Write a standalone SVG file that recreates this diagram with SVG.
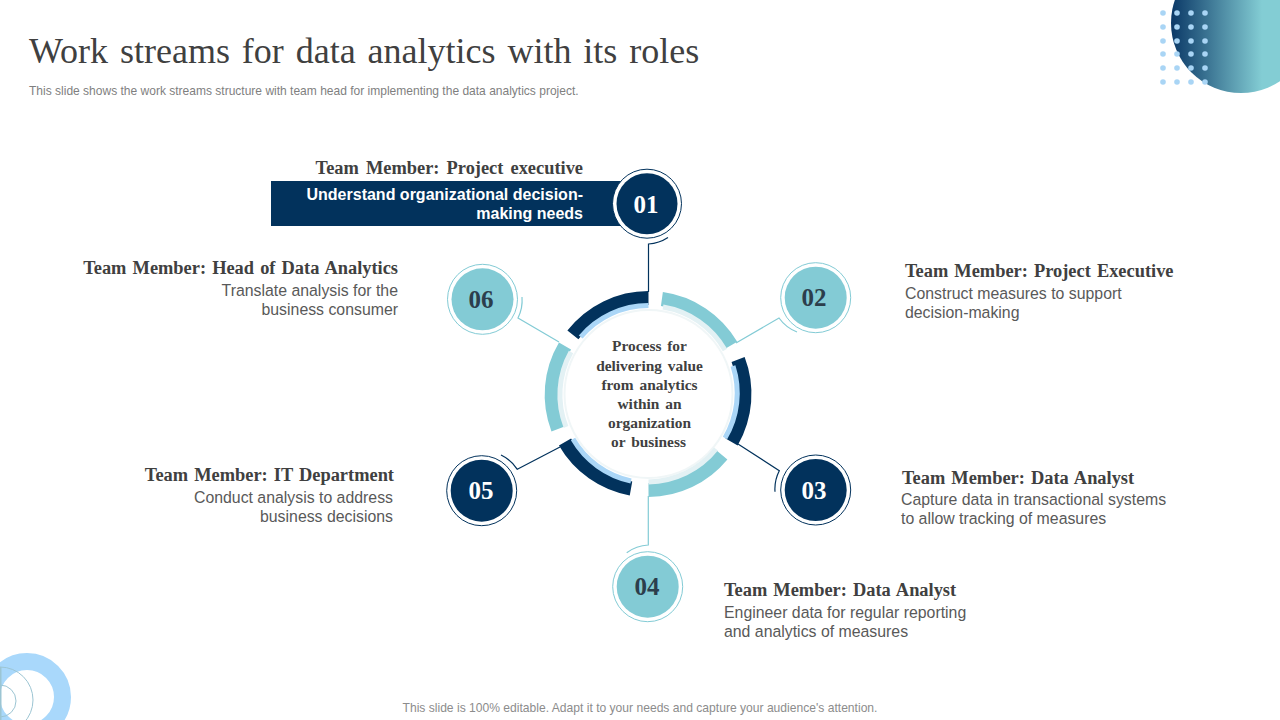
<svg xmlns="http://www.w3.org/2000/svg" width="1280" height="720" viewBox="0 0 1280 720">
<style>
.ser{font-family:"Liberation Serif","Times New Roman",serif;font-weight:700}
.ttl{font-family:"Liberation Serif","Times New Roman",serif;font-size:36px;fill:#404040;word-spacing:2.9px}
.san{font-family:"Liberation Sans",Arial,sans-serif}
.head{font-size:18.4px;fill:#404040;word-spacing:1.5px}
.body{font-size:15.85px;fill:#595959}
.num{font-size:25px;text-anchor:middle}
.ctr{font-size:15.4px;fill:#404040;text-anchor:middle;word-spacing:2px}
.end{text-anchor:end}
.fillD{fill:#02325c}
.fillL{fill:#83cbd5}
.ringD{fill:none;stroke:#02325c;stroke-width:1}
.ringL{fill:none;stroke:#83cbd5;stroke-width:1}
.arcD{fill:none;stroke:#02325c;stroke-width:14}
.arcL{fill:none;stroke:#83cbd5;stroke-width:14}
.thinB{fill:none;stroke:#aad6f7;stroke-width:5}
.thinP{fill:none;stroke:#e3f1f4;stroke-width:5}
.cd{fill:none;stroke:#02325c;stroke-width:1.2}
.cl{fill:none;stroke:#83cbd5;stroke-width:1.2}
</style>
<defs>
<linearGradient id="g" gradientUnits="userSpaceOnUse" x1="1172" y1="0" x2="1262" y2="0">
<stop offset="0" stop-color="#0c3a68"/><stop offset="1" stop-color="#83cdd4"/>
</linearGradient>
</defs>
<g id="decor">
<circle cx="1241" cy="23" r="70" fill="url(#g)"/>
<rect x="1241" y="0" width="39" height="81" fill="url(#g)"/>
<g fill="#a9d5f5">
<circle cx="1163" cy="13" r="2.8"/><circle cx="1177" cy="13" r="2.8"/><circle cx="1191" cy="13" r="2.8"/><circle cx="1205" cy="13" r="2.8"/>
<circle cx="1163" cy="27" r="2.8"/><circle cx="1177" cy="27" r="2.8"/><circle cx="1191" cy="27" r="2.8"/><circle cx="1205" cy="27" r="2.8"/>
<circle cx="1163" cy="41" r="2.8"/><circle cx="1177" cy="41" r="2.8"/><circle cx="1191" cy="41" r="2.8"/><circle cx="1205" cy="41" r="2.8"/>
<circle cx="1163" cy="54" r="2.8"/><circle cx="1177" cy="54" r="2.8"/><circle cx="1191" cy="54" r="2.8"/><circle cx="1205" cy="54" r="2.8"/>
<circle cx="1163" cy="68" r="2.8"/><circle cx="1177" cy="68" r="2.8"/><circle cx="1191" cy="68" r="2.8"/><circle cx="1205" cy="68" r="2.8"/>
<circle cx="1163" cy="82" r="2.8"/><circle cx="1177" cy="82" r="2.8"/><circle cx="1191" cy="82" r="2.8"/><circle cx="1205" cy="82" r="2.8"/>
</g>
<circle cx="27" cy="697" r="35.5" fill="none" stroke="#a9d8fb" stroke-width="17"/>
<circle cx="0" cy="700" r="33" fill="none" stroke="#9cc5d3" stroke-width="1"/>
<circle cx="0" cy="701" r="16" fill="none" stroke="#9cc5d3" stroke-width="1"/>
<rect x="0" y="667" width="1.5" height="53" fill="#9cc5d3"/>
</g>
<text class="ttl" x="29" y="63">Work streams for data analytics with its roles</text>
<text class="san" x="29" y="94.500" font-size="12.02" fill="#7f7f7f">This slide shows the work streams structure with team head for implementing the data analytics project.</text>

<g id="connectors">
<path class="cd" d="M648.500 292V244A40 40 0 0 0 668 237.500"/>
<path class="cl" d="M736 343L779 318A40 40 0 0 0 797 332"/>
<path class="cd" d="M738 444L779.300 470.700A40 40 0 0 0 775 491.700"/>
<path class="cl" d="M648.300 496V545A40 40 0 0 0 626.700 552.700"/>
<path class="cd" d="M560 447L517.300 469.300A40 40 0 0 0 501 455"/>
<path class="cl" d="M559 342L518 318A40 40 0 0 0 522 297"/>
</g>

<g id="hub">
<circle cx="648.500" cy="394" r="84" fill="#fff" stroke="#f0f6f7" stroke-width="2"/>
<path class="arcD" d="M648.500 298A96 96 0 0 0 572.900 334.900"/>
<path class="thinB" d="M648.500 305.500A88.500 88.500 0 0 0 580.700 337"/>
<path class="arcL" d="M661.900 299A96 96 0 0 1 731.200 345.300"/>
<path class="thinP" d="M663 307A88 88 0 0 1 725 350"/>
<path class="arcD" d="M738.100 359.600A96 96 0 0 1 731.600 442"/>
<path class="thinB" d="M733 366A88.500 88.500 0 0 1 725 438"/>
<path class="arcL" d="M722 455A96 96 0 0 1 648.500 490"/>
<path class="thinP" d="M716 449A88 88 0 0 1 648.500 482"/>
<path class="arcD" d="M631 488.500A96 96 0 0 1 565 442"/>
<path class="thinB" d="M631 481A88.500 88.500 0 0 1 573 439"/>
<path class="arcL" d="M558 429A96 96 0 0 1 565 346"/>
<path class="thinP" d="M566 427A88 88 0 0 1 571 352"/>
<text class="ser ctr"><tspan x="649.500" y="351">Process for</tspan><tspan x="649.500" y="371">delivering value</tspan><tspan x="649.500" y="390">from analytics</tspan><tspan x="649.500" y="409">within an</tspan><tspan x="649.500" y="428">organization</tspan><tspan x="648.500" y="447">or business</tspan></text>
</g>

<g id="node-01">
<rect class="fillD" x="271" y="181" width="350" height="45"/>
<circle cx="647" cy="203.700" r="34.500" fill="#fff" stroke="#02325c" stroke-width="1"/>
<circle class="fillD" cx="647" cy="203.700" r="30.500"/>
<text class="ser num" x="646" y="212.500" fill="#fff">01</text>
<text class="ser head end" x="583" y="174" style="word-spacing:2.5px">Team Member: Project executive</text>
<text class="san end" font-size="16" font-weight="700" fill="#fff"><tspan x="583" y="200">Understand organizational decision-</tspan><tspan x="583" y="219">making needs</tspan></text>
</g>
<g id="node-02">
<circle class="ringL" cx="815.700" cy="297.700" r="35"/>
<circle class="fillL" cx="815.700" cy="297.700" r="31"/>
<text class="ser num" x="814" y="306" fill="#2c3e4c">02</text>
<text class="ser head" x="905" y="277">Team Member: Project Executive</text>
<text class="san body"><tspan x="905" y="299">Construct measures to support</tspan><tspan x="905" y="318">decision-making</tspan></text>
</g>
<g id="node-03">
<circle class="ringD" cx="815.700" cy="490" r="35"/>
<circle class="fillD" cx="815.700" cy="490" r="31"/>
<text class="ser num" x="814" y="498.500" fill="#fff">03</text>
<text class="ser head" x="902" y="484">Team Member: Data Analyst</text>
<text class="san body"><tspan x="901" y="505">Capture data in transactional systems</tspan><tspan x="901" y="524">to allow tracking of measures</tspan></text>
</g>
<g id="node-04">
<circle class="ringL" cx="647.700" cy="586.700" r="35"/>
<circle class="fillL" cx="647.700" cy="586.700" r="31"/>
<text class="ser num" x="647" y="595" fill="#2c3e4c">04</text>
<text class="ser head" x="724" y="596">Team Member: Data Analyst</text>
<text class="san body"><tspan x="724" y="618">Engineer data for regular reporting</tspan><tspan x="724" y="637">and analytics of measures</tspan></text>
</g>
<g id="node-05">
<circle class="ringD" cx="481.700" cy="490.700" r="35"/>
<circle class="fillD" cx="481.700" cy="490.700" r="31"/>
<text class="ser num" x="481" y="499" fill="#fff">05</text>
<text class="ser head end" x="394" y="481">Team Member: IT Department</text>
<text class="san body end"><tspan x="393" y="503">Conduct analysis to address</tspan><tspan x="393" y="522">business decisions</tspan></text>
</g>
<g id="node-06">
<circle class="ringL" cx="482.500" cy="299.300" r="35"/>
<circle class="fillL" cx="482.500" cy="299.300" r="31"/>
<text class="ser num" x="481" y="307.500" fill="#2c3e4c">06</text>
<text class="ser head end" x="398" y="274">Team Member: Head of Data Analytics</text>
<text class="san body end"><tspan x="398" y="296">Translate analysis for the</tspan><tspan x="398" y="315">business consumer</tspan></text>
</g>
<text class="san" x="640" y="712" font-size="12.1" fill="#8c8c8c" text-anchor="middle">This slide is 100% editable. Adapt it to your needs and capture your audience's attention.</text>
</svg>
